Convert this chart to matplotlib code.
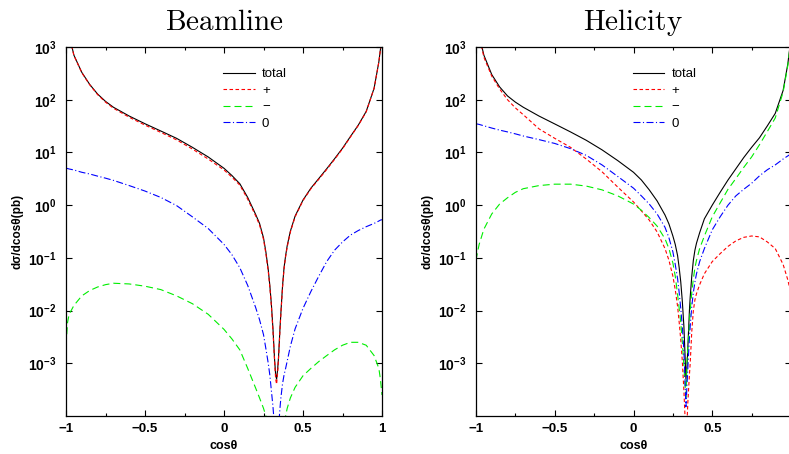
import matplotlib
matplotlib.use("Agg")
import matplotlib.pyplot as plt
from matplotlib.ticker import FixedLocator, MultipleLocator

plt.rcParams['font.family'] = ['Liberation Sans', 'DejaVu Sans']
plt.rcParams['mathtext.fontset'] = 'custom'
plt.rcParams['mathtext.rm'] = 'Liberation Sans'
plt.rcParams['mathtext.bf'] = 'Liberation Sans:bold'

# cos(theta) sample points shared by every curve
cos_theta = [-1, -0.99, -0.98, -0.95, -0.9, -0.85, -0.8, -0.75, -0.7,
             -0.6, -0.5, -0.4, -0.3, -0.2, -0.1,
             0, 0.05, 0.1, 0.15, 0.2,
             0.225, 0.25, 0.265, 0.28, 0.29, 0.30, 0.31, 0.32, 0.327, 0.333,
             0.34, 0.345, 0.355, 0.36, 0.37, 0.38, 0.39, 0.4,
             0.42, 0.45, 0.5, 0.55, 0.6, 0.65, 0.7, 0.75, 0.8, 0.85, 0.9, 0.95, 0.98, 0.99, 1.0]

# Beamline basis (pb)
beam_total = [5000, 2800, 1700, 700, 330, 195, 128, 93, 72,
              49, 35, 25.5, 18.5, 12.5, 8.2,
              5.0, 3.65, 2.55, 1.4, 0.67,
              0.45, 0.24, 0.13, 0.06, 0.03, 0.013, 0.0045, 0.0012, 0.0006, 0.0005,
              0.0008, 0.0013, 0.005, 0.009, 0.028, 0.065, 0.11, 0.17,
              0.32, 0.62, 1.25, 2.1, 3.2, 4.9, 7.6, 12, 20, 33, 60, 165, 520, 900, 1400]
beam_plus = [5000, 2800, 1700, 690, 325, 192, 125, 90, 69,
             46.5, 33, 24, 17.3, 11.6, 7.5,
             4.65, 3.4, 2.4, 1.3, 0.63,
             0.42, 0.225, 0.12, 0.056, 0.028, 0.012, 0.004, 0.0011, 0.0005, 0.0004,
             0.0007, 0.0012, 0.0047, 0.0085, 0.026, 0.062, 0.105, 0.16,
             0.31, 0.6, 1.22, 2.05, 3.1, 4.75, 7.4, 11.7, 19.6, 32.5, 59, 164, 518, 898, 1400]
beam_minus = [0.0022, 0.006, 0.0085, 0.0125, 0.019, 0.024, 0.028, 0.031, 0.033,
              0.032, 0.029, 0.025, 0.019, 0.0135, 0.0085,
              0.0044, 0.0029, 0.0018, 0.0008, 0.00034,
              0.00022, 0.00014, 0.0001, 0.00006, 0.00004, 0.00002, 0.00001, 0.000003, 0.000002, 0.000001,
              0.000002, 0.000003, 0.00001, 0.00002, 0.00004, 0.00007, 0.0001, 0.00014,
              0.00022, 0.00035, 0.00058, 0.0008, 0.00108, 0.0014, 0.0018, 0.0022, 0.0025, 0.0025, 0.0022,
              0.0014, 0.0008, 0.0005, 0.00025]
beam_zero = [5.0, 4.95, 4.85, 4.65, 4.2, 3.9, 3.55, 3.25, 2.95,
             2.35, 1.85, 1.4, 0.98, 0.6, 0.36,
             0.18, 0.115, 0.065, 0.03, 0.0115,
             0.0067, 0.0035, 0.0019, 0.001, 0.0006, 0.0003, 0.00015, 0.00006, 0.00003, 0.00002,
             0.00003, 0.00006, 0.00015, 0.00022, 0.0004, 0.0006, 0.0008, 0.0011,
             0.0021, 0.0045, 0.011, 0.023, 0.045, 0.085, 0.14, 0.2, 0.27, 0.33, 0.39, 0.45, 0.5, 0.52, 0.53]

# Helicity basis (pb)
heli_total = [5000, 2800, 1700, 700, 300, 175, 118, 90, 72,
              49, 34.7, 24.5, 17, 11.2, 7.0,
              4.2, 3.0, 1.95, 1.2, 0.65,
              0.44, 0.26, 0.18, 0.11, 0.065, 0.035, 0.015, 0.005, 0.0015, 0.0005,
              0.0009, 0.002, 0.01, 0.018, 0.045, 0.09, 0.14, 0.19,
              0.3, 0.55, 1.0, 1.75, 3.0, 4.9, 8.0, 12.5, 19, 32, 55, 150, 480, 850, 1400]
heli_plus = [5000, 2800, 1700, 640, 280, 160, 100, 70, 52,
             28, 18.5, 12.5, 7.5, 4.3, 2.2,
             1.15, 0.78, 0.52, 0.31, 0.15,
             0.09, 0.045, 0.025, 0.012, 0.006, 0.0028, 0.0011, 0.0003, 0.0001, 0.00004,
             0.00008, 0.00018, 0.0006, 0.001, 0.004, 0.01, 0.016, 0.021,
             0.031, 0.05, 0.085, 0.12, 0.165, 0.21, 0.245, 0.26, 0.25, 0.2, 0.15, 0.075, 0.038, 0.028, 0.02]
heli_minus = [0.09, 0.13, 0.18, 0.35, 0.68, 1.05, 1.38, 1.75, 2.05,
              2.35, 2.5, 2.5, 2.3, 1.95, 1.5,
              1.05, 0.8, 0.58, 0.4, 0.23,
              0.15, 0.08, 0.045, 0.02, 0.011, 0.006, 0.0025, 0.0009, 0.0004, 0.0002,
              0.0012, 0.002, 0.0055, 0.01, 0.022, 0.04, 0.065, 0.09,
              0.15, 0.26, 0.6, 1.1, 2.0, 3.2, 5.2, 8.2, 14, 25, 45, 140, 450, 800, 1300]
heli_zero = [35, 34.5, 34, 32, 29, 26.5, 24.5, 22.5, 20.5,
             17.5, 14.8, 11.8, 8.8, 5.8, 3.5,
             2.1, 1.5, 1.05, 0.68, 0.38,
             0.24, 0.13, 0.075, 0.04, 0.022, 0.011, 0.005, 0.0017, 0.0005, 0.00015,
             0.0004, 0.0008, 0.003, 0.005, 0.012, 0.022, 0.035, 0.05,
             0.085, 0.15, 0.34, 0.6, 1.0, 1.5, 2.0, 2.6, 3.6, 4.7, 5.8, 7.5, 8.6, 9.0, 9.5]

series_labels = ['total', '+', '\u2212', '0']
panel_titles = ['Beamline', 'Helicity']
xtick_vals = [-1, -0.5, 0, 0.5, 1]
xtick_labels = [['\u22121', '\u22120.5', '0', '0.5', '1'],
                ['\u22121', '\u22120.5', '0', '0.5', '']]
ytick_vals = [1e-3, 1e-2, 1e-1, 1e0, 1e1, 1e2, 1e3]
ytick_labels = [r'$\mathbf{10^{-3}}$', r'$\mathbf{10^{-2}}$', r'$\mathbf{10^{-1}}$',
                r'$\mathbf{10^{0}}$', r'$\mathbf{10^{1}}$', r'$\mathbf{10^{2}}$', r'$\mathbf{10^{3}}$']

styles = [dict(color='black', ls='-'),
          dict(color='red', dashes=(3.2, 2.2)),
          dict(color='#00ee00', dashes=(6.3, 3.6)),
          dict(color='blue', dashes=(6.3, 2.2, 1.0, 2.2))]

W, H = 789, 454
fig = plt.figure(figsize=(W / 100, H / 100), dpi=100)
ax_left = fig.add_axes([66 / W, 1 - 416 / H, 316 / W, 369 / H])
ax_right = fig.add_axes([476 / W, 1 - 416 / H, 315 / W, 369 / H])

panels = [(ax_left, [beam_total, beam_plus, beam_minus, beam_zero]),
          (ax_right, [heli_total, heli_plus, heli_minus, heli_zero])]

for i, ((ax, curves), title) in enumerate(zip(panels, panel_titles)):
    for ys, lab, st in zip(curves, series_labels, styles):
        ax.plot(cos_theta, ys, lw=0.8, label=lab, **st)
    ax.set_yscale('log')
    ax.set_xlim(-1, 1)
    ax.set_ylim(1e-4, 1e3)
    ax.yaxis.set_major_locator(FixedLocator(ytick_vals))
    ax.yaxis.set_minor_locator(FixedLocator([]))
    ax.set_yticklabels(ytick_labels)
    ax.set_xticks(xtick_vals)
    ax.set_xticklabels(xtick_labels[i], fontweight='bold')
    ax.xaxis.set_minor_locator(MultipleLocator(0.25))
    ax.tick_params(which='both', direction='in', top=True, right=True, width=0.8)
    ax.tick_params(which='major', length=4)
    ax.tick_params(which='minor', length=2.2)
    ax.tick_params(axis='x', labelsize=9.5, pad=5)
    ax.tick_params(axis='y', labelsize=10, pad=7)
    for sp in ax.spines.values():
        sp.set_linewidth(0.9)
    ax.set_xlabel('cos\u03b8', fontsize=9, fontweight='bold')
    ax.xaxis.set_label_coords(0.5, -0.064)
    ax.set_ylabel('d\u03c3/dcos\u03b8(pb)', fontsize=8.5, fontweight='bold')
    ax.set_title(r'$\mathrm{' + title + '}$', math_fontfamily='cm', fontsize=21, pad=12)
    ax.legend(loc='upper left', bbox_to_anchor=(0.497, 0.943), frameon=False, fontsize=9.5,
              handlelength=2.4, handletextpad=0.55, labelspacing=0.33, borderpad=0, borderaxespad=0)

ax_left.yaxis.set_label_coords((23 - 66) / 316, 0.5)
ax_right.yaxis.set_label_coords((433 - 476) / 315, 0.5)

fig.savefig('out.png', dpi=100)
